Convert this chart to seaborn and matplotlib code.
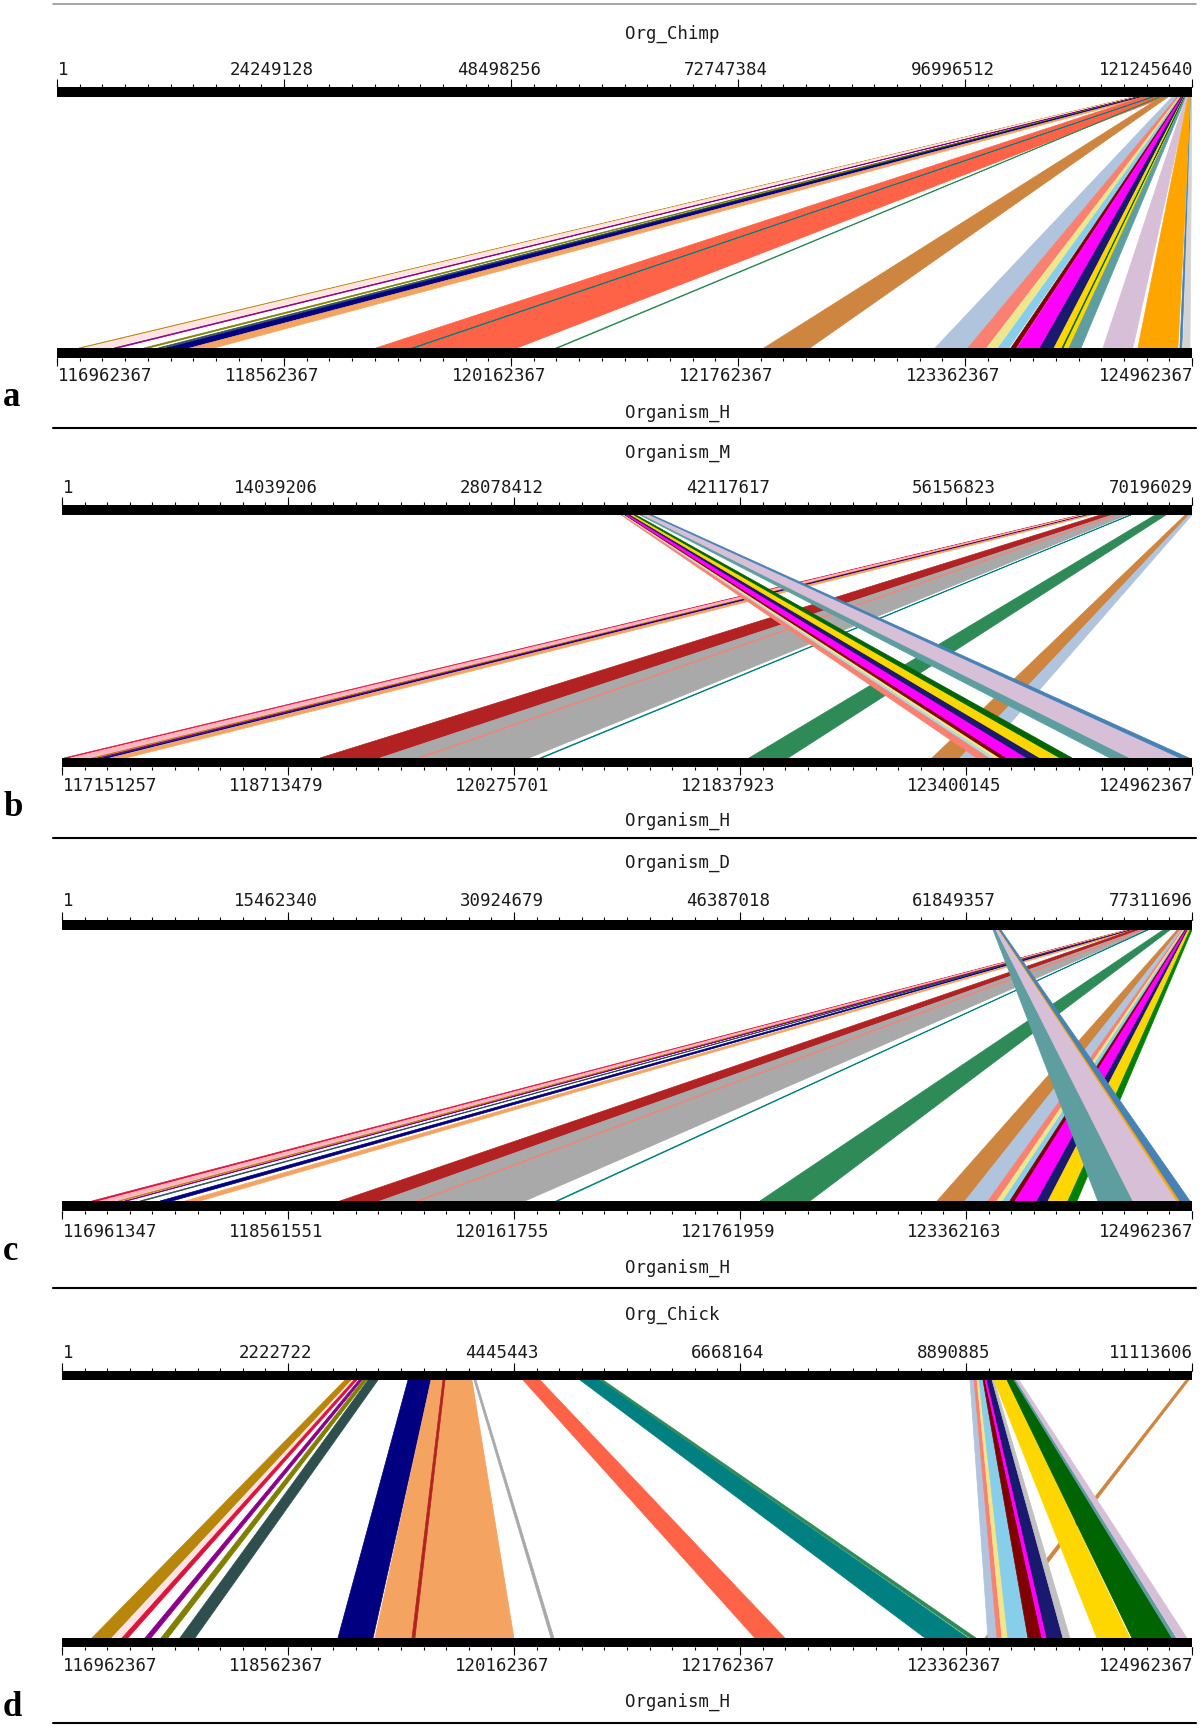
import numpy as np
import matplotlib
matplotlib.use("Agg")
import matplotlib.pyplot as plt
import matplotlib.transforms as mtransforms
import seaborn as sns

# ---------------- data (positions of syntenic blocks in Mb) ----------------
# panel a : Org_Chimp (top) vs Organism_H (bottom)
a_names = ["Org_Chimp", "Organism_H"]
a_top_ticks = [1, 24249128, 48498256, 72747384, 96996512, 121245640]
a_bot_ticks = [116962367, 118562367, 120162367, 121762367, 123362367, 124962367]
a_colors = ["darkgoldenrod", "mistyrose", "darkmagenta", "olive", "darkslategray", "navy",
            "sandybrown", "tomato", "teal", "seagreen", "peru", "lightsteelblue", "salmon",
            "khaki", "skyblue", "maroon", "magenta", "midnightblue", "gold", "darkgreen",
            "cadetblue", "thistle", "orange", "steelblue", "lightgray"]
a_top_s = [114.943, 115.050, 115.370, 115.584, 115.691, 115.798, 116.012, 116.012, 116.973,
           117.721, 117.935, 119.109, 119.643, 119.857, 119.964, 120.071, 120.177, 120.284,
           120.391, 120.440, 120.498, 120.604, 120.818, 121.138, 121.160]
a_top_e = [115.050, 115.370, 115.477, 115.691, 115.798, 116.012, 116.333, 118.362, 117.079,
           117.828, 118.682, 119.643, 119.857, 119.964, 120.071, 120.177, 120.284, 120.391,
           120.498, 120.460, 120.604, 120.818, 121.138, 121.245, 121.245]
a_bot_s = [117.117, 117.152, 117.364, 117.575, 117.674, 117.730, 117.899, 119.210, 119.464,
           120.479, 121.945, 123.151, 123.383, 123.517, 123.595, 123.686, 123.729, 123.891,
           123.990, 124.046, 124.095, 124.335, 124.581, 124.877, 124.899]
a_bot_e = [117.145, 117.336, 117.392, 117.610, 117.709, 117.899, 118.069, 120.204, 119.478,
           120.493, 122.269, 123.383, 123.510, 123.588, 123.672, 123.722, 123.891, 123.990,
           124.095, 124.053, 124.180, 124.546, 124.863, 124.891, 124.948]

# panel b : Organism_M (top) vs Organism_H (bottom)
b_names = ["Organism_M", "Organism_H"]
b_top_ticks = [1, 14039206, 28078412, 42117617, 56156823, 70196029]
b_bot_ticks = [117151257, 118713479, 120275701, 121837923, 123400145, 124962367]
b_colors = ["crimson", "lightpink", "darkgoldenrod", "darkmagenta", "navy", "sandybrown",
            "firebrick", "darkgray", "salmon", "teal", "seagreen", "peru", "lightsteelblue",
            "salmon", "lightblue", "khaki", "maroon", "magenta", "midnightblue", "gold",
            "darkgreen", "cadetblue", "thistle", "steelblue"]
b_top_s = [63.238, 63.362, 63.611, 63.673, 63.735, 63.797, 64.481, 65.227, 65.413, 66.344,
           67.897, 69.761, 70.010, 34.725, 34.849, 34.911, 34.973, 35.035, 35.221, 35.346,
           35.532, 35.905, 36.091, 36.526]
b_top_e = [63.362, 63.549, 63.673, 63.735, 63.797, 63.984, 65.227, 66.157, 65.475, 66.406,
           68.580, 70.010, 70.196, 34.849, 34.911, 34.973, 35.035, 35.221, 35.346, 35.532,
           35.656, 36.091, 36.526, 36.650]
b_bot_s = [117.165, 117.207, 117.358, 117.400, 117.434, 117.483, 118.934, 119.349, 119.612,
           120.455, 121.900, 123.165, 123.358, 123.476, 123.566, 123.600, 123.635, 123.683,
           123.822, 123.912, 124.050, 124.395, 124.534, 124.880]
b_bot_e = [117.207, 117.345, 117.379, 117.414, 117.469, 117.593, 119.349, 120.379, 119.626,
           120.469, 122.170, 123.358, 123.497, 123.566, 123.600, 123.635, 123.683, 123.822,
           123.912, 124.050, 124.133, 124.534, 124.880, 124.942]

# panel c : Organism_D (top) vs Organism_H (bottom)
c_names = ["Organism_D", "Organism_H"]
c_top_ticks = [1, 15462340, 30924679, 46387018, 61849357, 77311696]
c_bot_ticks = [116961347, 118561551, 120161755, 121761959, 123362163, 124962367]
c_colors = ["crimson", "lightpink", "darkgoldenrod", "darkmagenta", "darkslategray", "navy",
            "sandybrown", "firebrick", "darkgray", "salmon", "teal", "seagreen", "peru",
            "lightsteelblue", "salmon", "khaki", "skyblue", "maroon", "magenta",
            "midnightblue", "gold", "green", "cadetblue", "thistle", "orange", "steelblue"]
c_top_s = [72.865, 72.933, 73.070, 73.139, 73.173, 73.207, 73.276, 73.276, 73.755, 73.892,
           74.234, 75.329, 76.287, 76.492, 76.629, 76.697, 76.766, 76.834, 76.902, 76.971,
           77.039, 77.176, 63.697, 63.902, 64.108, 64.142]
c_top_e = [72.933, 73.070, 73.105, 73.173, 73.207, 73.276, 73.413, 73.755, 74.234, 73.960,
           74.302, 75.808, 76.492, 76.629, 76.697, 76.766, 76.834, 76.902, 76.971, 77.039,
           77.176, 77.311, 63.902, 64.108, 64.142, 64.245]
c_bot_s = [117.173, 117.230, 117.358, 117.407, 117.513, 117.655, 117.832, 118.929, 119.213,
           119.475, 120.459, 121.903, 123.157, 123.355, 123.518, 123.581, 123.624, 123.673,
           123.709, 123.865, 123.943, 124.084, 124.296, 124.544, 124.856, 124.877]
c_bot_e = [117.230, 117.336, 117.379, 117.421, 117.535, 117.740, 117.938, 119.213, 120.239,
           119.489, 120.473, 122.257, 123.355, 123.518, 123.581, 123.624, 123.673, 123.709,
           123.865, 123.943, 124.084, 124.148, 124.544, 124.856, 124.877, 124.948]

# panel d : Org_Chick (top) vs Organism_H (bottom)
d_names = ["Org_Chick", "Organism_H"]
d_top_ticks = [1, 2222722, 4445443, 6668164, 8890885, 11113606]
d_bot_ticks = [116962367, 118562367, 120162367, 121762367, 123362367, 124962367]
d_colors = ["peru", "darkgoldenrod", "mistyrose", "crimson", "darkmagenta", "olive",
            "darkslategray", "navy", "sandybrown", "firebrick", "darkgray", "tomato", "teal",
            "seagreen", "lightsteelblue", "salmon", "khaki", "skyblue", "maroon", "magenta",
            "midnightblue", "silver", "gold", "darkgreen", "cadetblue", "thistle"]
d_top_s = [11.055, 2.783, 2.852, 2.872, 2.921, 2.960, 3.010, 3.403, 3.629, 3.747, 4.052,
           4.534, 5.095, 5.291, 8.930, 8.970, 8.999, 9.019, 9.058, 9.078, 9.098, 9.147,
           9.166, 9.294, 9.363, 9.383]
d_top_e = [11.084, 2.852, 2.872, 2.901, 2.951, 3.000, 3.108, 3.629, 4.032, 3.767, 4.072,
           4.701, 5.291, 5.321, 8.970, 8.999, 9.019, 9.058, 9.078, 9.098, 9.147, 9.166,
           9.294, 9.363, 9.383, 9.412]
d_bot_s = [123.497, 117.174, 117.316, 117.387, 117.550, 117.663, 117.797, 118.916, 119.178,
           119.440, 120.424, 121.868, 123.072, 123.390, 123.518, 123.582, 123.617, 123.659,
           123.801, 123.900, 123.935, 124.049, 124.289, 124.537, 124.821, 124.856]
d_bot_e = [123.532, 117.309, 117.380, 117.429, 117.592, 117.712, 117.904, 119.164, 120.162,
           119.461, 120.445, 122.080, 123.376, 123.433, 123.582, 123.617, 123.659, 123.801,
           123.900, 123.935, 124.049, 124.098, 124.523, 124.821, 124.849, 124.927]

# ---------------- style ----------------
sns.set_theme(style="white")
plt.rcParams["font.family"] = ["DejaVu Sans Mono", "DejaVu Sans"]

FIG_W, FIG_H = 1200, 1728
MONO = dict(family="DejaVu Sans Mono", size=12.5, color="#1a1a1a")


def fx(px):
    return px / FIG_W


def fy(py):
    return 1 - py / FIG_H


# layout of every panel in figure pixels (y counted from the top)
panels = [
    dict(letter="a", names=a_names, top_ticks=a_top_ticks, bot_ticks=a_bot_ticks,
         rib=(a_top_s, a_top_e, a_bot_s, a_bot_e, a_colors),
         x0=57, x1=1192, name_top=34, lab_top=70, bar_top=(87, 97), bar_bot=(348, 358),
         lab_bot=376, letter_y=397, name_bot=413, rule=428),
    dict(letter="b", names=b_names, top_ticks=b_top_ticks, bot_ticks=b_bot_ticks,
         rib=(b_top_s, b_top_e, b_bot_s, b_bot_e, b_colors),
         x0=62, x1=1192, name_top=453, lab_top=488, bar_top=(505, 515), bar_bot=(758, 767),
         lab_bot=786, letter_y=808, name_bot=821, rule=838),
    dict(letter="c", names=c_names, top_ticks=c_top_ticks, bot_ticks=c_bot_ticks,
         rib=(c_top_s, c_top_e, c_bot_s, c_bot_e, c_colors),
         x0=62, x1=1192, name_top=863, lab_top=901, bar_top=(920, 930), bar_bot=(1201, 1211),
         lab_bot=1232, letter_y=1252, name_bot=1268, rule=1288),
    dict(letter="d", names=d_names, top_ticks=d_top_ticks, bot_ticks=d_bot_ticks,
         rib=(d_top_s, d_top_e, d_bot_s, d_bot_e, d_colors),
         x0=62, x1=1192, name_top=1315, lab_top=1353, bar_top=(1371, 1380), bar_bot=(1638, 1647),
         lab_bot=1666, letter_y=1707, name_bot=1702, rule=1723),
]

fig = plt.figure(figsize=(12, 17.28), dpi=100)

# thin grey rule on top of the first panel
fig.add_artist(plt.Line2D([fx(53), fx(1196)], [fy(4), fy(4)], color="#8c8c8c", lw=1.1))


def tick_labels(ax, ticks, fracs, y):
    last = len(ticks) - 1
    for i, (v, f) in enumerate(zip(ticks, fracs)):
        if i == 0:
            ha, dx = "left", 1
        elif i == last:
            ha, dx = "right", 1
        else:
            ha, dx = "center", -12
        tr = mtransforms.offset_copy(ax.transData, fig=fig, x=dx, y=0, units="dots")
        ax.text(f, y, str(v), ha=ha, va="center", transform=tr, clip_on=False, **MONO)


for p in panels:
    y_top, y_bot = p["bar_top"][0], p["bar_bot"][1]
    ax = fig.add_axes([fx(p["x0"]), fy(y_bot), fx(p["x1"] - p["x0"]), (y_bot - y_top) / FIG_H])
    ax.set_xlim(0, 1)
    ax.set_ylim(y_bot, y_top)
    ax.axis("off")

    t_lo, t_hi = p["top_ticks"][0], p["top_ticks"][-1]
    b_lo, b_hi = p["bot_ticks"][0], p["bot_ticks"][-1]

    def ftop(v):
        return (np.asarray(v, dtype=float) - t_lo) / (t_hi - t_lo)

    def fbot(v):
        return (np.asarray(v, dtype=float) - b_lo) / (b_hi - b_lo)

    # synteny ribbons
    yt, yb = p["bar_top"][1], p["bar_bot"][0]
    ts, te, bs, be, cols = p["rib"]
    for s1, e1, s2, e2, c in zip(ts, te, bs, be, cols):
        xs = [ftop(s1 * 1e6), ftop(e1 * 1e6), fbot(e2 * 1e6), fbot(s2 * 1e6)]
        ax.fill(xs, [yt, yt, yb, yb], facecolor=c, edgecolor=c, lw=0.5)

    # genome bars
    ax.axhspan(*p["bar_top"], color="black", lw=0)
    ax.axhspan(*p["bar_bot"], color="black", lw=0)

    # ticks: 5 major intervals, 10 minor steps each
    major_t = ftop(p["top_ticks"])
    major_b = fbot(p["bot_ticks"])
    minor_t = np.linspace(major_t[0], major_t[-1], 51)
    minor_b = np.linspace(major_b[0], major_b[-1], 51)
    ax.vlines(minor_t, p["bar_top"][0] - 3, p["bar_top"][0], color="black", lw=0.8, clip_on=False)
    ax.vlines(major_t, p["bar_top"][0] - 8, p["bar_top"][0], color="black", lw=0.8, clip_on=False)
    ax.vlines(minor_b, p["bar_bot"][1], p["bar_bot"][1] + 3, color="black", lw=0.8, clip_on=False)
    ax.vlines(major_b, p["bar_bot"][1], p["bar_bot"][1] + 8, color="black", lw=0.8, clip_on=False)

    tick_labels(ax, p["top_ticks"], major_t, p["lab_top"])
    tick_labels(ax, p["bot_ticks"], major_b, p["lab_bot"])

    # organism names, panel letter and separating rule
    fig.text(fx(625), fy(p["name_top"]), p["names"][0], ha="left", va="center", **MONO)
    fig.text(fx(625), fy(p["name_bot"]), p["names"][1], ha="left", va="center", **MONO)
    fig.text(fx(3), fy(p["letter_y"]), p["letter"], ha="left", va="center",
             family="Liberation Serif", weight="bold", size=25, color="black")
    fig.add_artist(plt.Line2D([fx(53), fx(1196)], [fy(p["rule"]), fy(p["rule"])],
                              color="black", lw=1.5))

fig.savefig("out.png", dpi=100)
